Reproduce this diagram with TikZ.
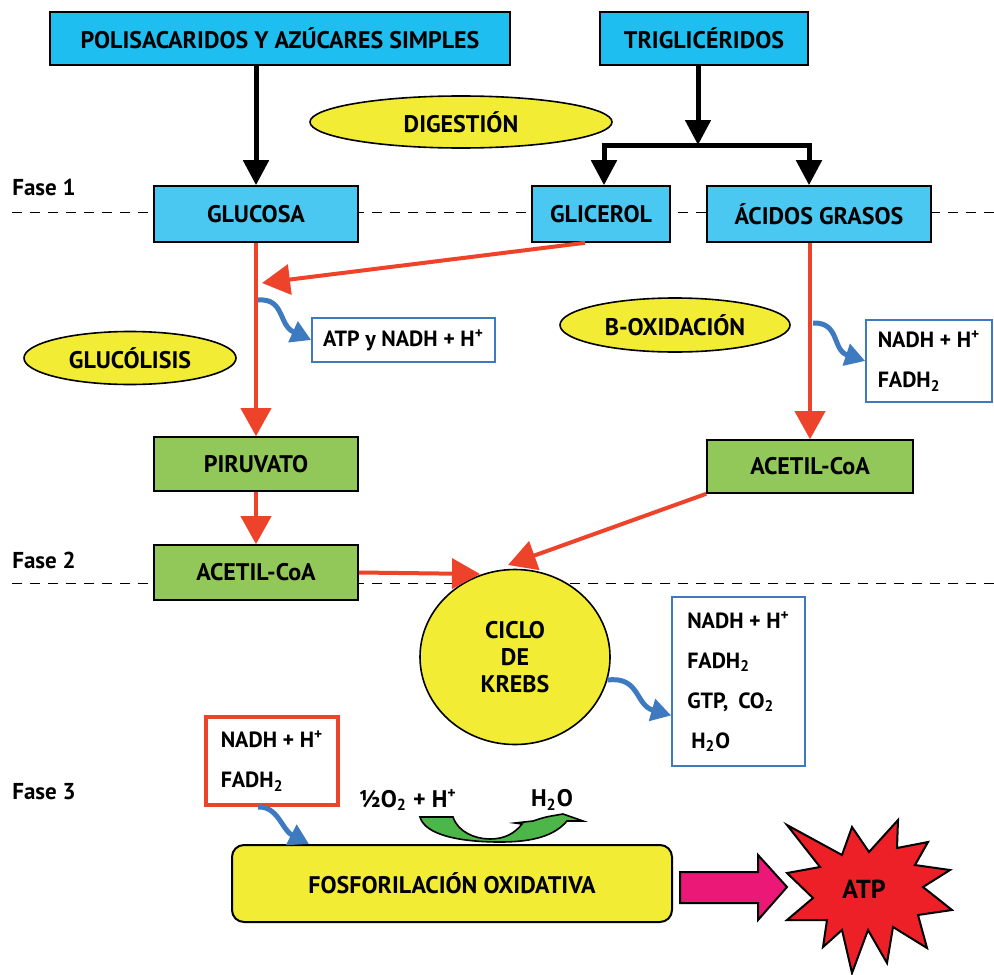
\documentclass[tikz,border=0pt]{standalone}
\usepackage{fontspec}
\setmainfont{PT Sans}
\usetikzlibrary{shapes.geometric, arrows.meta, positioning, calc}

\definecolor{topblue}{RGB}{30,190,240}
\definecolor{boxblue}{RGB}{75,200,242}
\definecolor{boxgreen}{RGB}{146,200,90}
\definecolor{ellyellow}{RGB}{242,236,52}
\definecolor{arrred}{RGB}{238,67,43}
\definecolor{arrblue}{RGB}{62,122,192}
\definecolor{arrgreen}{RGB}{76,182,72}
\definecolor{starred}{RGB}{236,32,38}
\definecolor{pinkarr}{RGB}{236,24,120}

\begin{document}
\begin{tikzpicture}[x=0.5pt, y=-0.5pt, font=\bfseries\fontsize{12}{14}\selectfont,
    bluebox/.style={draw=black, line width=0.8pt, fill=boxblue, inner sep=0pt},
    greenbox/.style={draw=black, line width=0.8pt, fill=boxgreen, inner sep=0pt},
    ellbox/.style={ellipse, draw=black, line width=0.8pt, fill=ellyellow, inner sep=0pt},
    outbox/.style={draw=arrblue, line width=0.8pt, fill=white, align=left, inner xsep=4pt, font=\bfseries\fontsize{11}{20}\selectfont},
    blackarr/.style={line width=2.5pt, -{Triangle[length=12.5pt, width=12.5pt]}},
    redarr/.style={draw=arrred, line width=2pt, -{Triangle[length=14pt, width=15pt]}},
    bluearr/.style={draw=arrblue, line width=2.5pt, -{Triangle[length=10pt, width=11pt]}},
    faselbl/.style={anchor=west, inner sep=0pt, font=\bfseries\fontsize{11.5}{13}\selectfont},
    phase/.style={dashed, dash pattern=on 5pt off 4pt, line width=0.5pt}]
\useasboundingbox (0,0) rectangle (994,974);

% fases
\node[faselbl] (f1) at (12,187) {Fase 1};
\node[faselbl] (f2) at (12,560) {Fase 2};
\node[faselbl] (f3) at (12,792) {Fase 3};
\draw[phase] (12,212) -- (994,212);
\draw[phase] (12,583) -- (994,583);

% sustratos
\node[bluebox, fill=topblue, minimum width=230pt, minimum height=26.5pt] (poli) at (280,38.5) {POLISACARIDOS Y AZÚCARES SIMPLES};
\node[bluebox, fill=topblue, minimum width=104pt, minimum height=26.5pt] (trig) at (704,38.5) {TRIGLICÉRIDOS};
\node[ellbox, minimum width=151pt, minimum height=26pt] (dig) at (461,122) {DIGESTIÓN};

\node[bluebox, minimum width=102pt, minimum height=28pt] (gluc) at (256,214) {GLUCOSA};
\node[bluebox, minimum width=69pt, minimum height=28pt] (glic) at (601,214) {GLICEROL};
\node[bluebox, minimum width=112pt, minimum height=28pt] (acid) at (819,214) {ÁCIDOS GRASOS};

\coordinate (split) at (698,145);
\coordinate (jl) at (604,145);
\coordinate (jr) at (809,145);
\draw[blackarr] (poli.south -| gluc.north) -- (gluc.north);
\draw[blackarr] (trig.south -| split) -- (split);
\draw[line width=2.5pt, line cap=rect] (jl) -- (jr);
\draw[blackarr] (jl) -- (jl |- glic.north);
\draw[blackarr] (jr) -- (jr |- acid.north);

% glucolisis
\node[ellbox, minimum width=106pt, minimum height=26.5pt] (glcl) at (130,358) {GLUCÓLISIS};
\node[outbox, minimum width=91.5pt, minimum height=22pt] (atp1) at (403.5,340) {ATP y NADH + H\textsuperscript{+}};
\node[greenbox, minimum width=102pt, minimum height=27pt] (piru) at (256,464) {PIRUVATO};
\node[greenbox, minimum width=102pt, minimum height=27.5pt] (acet1) at (256,572.5) {ACETIL-CoA};

\coordinate (g0) at (262,283);
\coordinate (g1) at (258,300);
\draw[redarr] (gluc.south) -- (piru.north);
\draw[redarr] ([xshift=-8pt]glic.south) -- (g0);
\draw[bluearr] (g1) .. controls (285,298) and (278,325) .. (atp1.west);
\draw[redarr] (piru.south) -- (acet1.north);

% beta-oxidacion
\node[ellbox, minimum width=115pt, minimum height=27pt] (box) at (675,325) {B-OXIDACIÓN};
\node[outbox, minimum width=63pt, minimum height=41pt] (nad1) at (929,361) {NADH + H\textsuperscript{+}\\FADH\textsubscript{2}};
\node[greenbox, minimum width=103pt, minimum height=26.5pt] (acet2) at (810,466.5) {ACETIL-CoA};

\coordinate (b1) at (813,323);
\draw[redarr] (acet2.north |- acid.south) -- (acet2.north);
\draw[bluearr] (b1) .. controls (840,322) and (832,350) .. (nad1.west);

% ciclo de krebs
\node[ellbox, minimum width=95pt, minimum height=87.5pt, align=center, font=\bfseries\fontsize{12}{13.5}\selectfont] (krebs) at (515,657) {CICLO\\DE\\KREBS};
\node[outbox, minimum width=66.5pt, minimum height=84.5pt] (out3) at (738.5,681.5) {NADH + H\textsuperscript{+}\\FADH\textsubscript{2}\\GTP,\hspace{0.45em}CO\textsubscript{2}\\\hspace{2pt}H\textsubscript{2}O};

\coordinate (k1) at (480,574);
\coordinate (k2) at (508,565);
\draw[redarr] (acet1.east) -- (k1);
\draw[redarr] (acet2.south west) -- (k2);
\draw[bluearr] (krebs.-14) .. controls (640,676) and (635,705) .. ([yshift=-17pt]out3.west);

% fase 3
\node[outbox, draw=arrred, line width=2pt, minimum width=66pt, minimum height=44pt] (nad3) at (272,761) {NADH + H\textsuperscript{+}\\FADH\textsubscript{2}};
\node[draw=black, line width=1pt, fill=ellyellow, rounded corners=6pt, minimum width=220pt, minimum height=38.5pt] (fosf) at (452,883.5) {FOSFORILACIÓN OXIDATIVA};
\node (o2) at (408,800) {½O\textsubscript{2} + H\textsuperscript{+}};
\node (h2o) at (552,800) {H\textsubscript{2}O};

\draw[bluearr] ([xshift=-7pt]nad3.south) .. controls (278,806) and (282,830) .. ([xshift=39pt]fosf.north west);
\filldraw[fill=arrgreen, draw=black, line width=0.8pt] (420,817) -- (453,817) .. controls (458,832) and (475,839) .. (490,839)
    .. controls (505,839) and (515,833) .. (522,824) -- (515,823) -- (533,821) .. controls (545,817) .. (563,814)
    -- (583,821) -- (567,821) .. controls (555,835) and (535,842) .. (500,842) .. controls (460,842) and (425,835) .. cycle;

% ATP
\filldraw[fill=pinkarr, draw=black, line width=1pt] (680,872) -- (758,872) -- (758,855) -- (787,887) -- (758,920) -- (758,903) -- (680,903) -- cycle;
\filldraw[fill=starred, draw=black, line width=1pt] (787,825) -- (842,855) -- (852,827) -- (869,852) -- (898,820) -- (897,848)
    -- (928,842) -- (915,865) -- (950,870) -- (923,887) -- (952,910) -- (918,915) -- (927,948) -- (893,927)
    -- (887,963) -- (868,930) -- (852,973) -- (842,930) -- (823,947) -- (827,920) -- (787,920) -- (813,898)
    -- (787,873) -- (820,867) -- cycle;
\node[font=\bfseries\fontsize{13}{15}\selectfont] (atp) at (864,889) {ATP};
\end{tikzpicture}
\end{document}
